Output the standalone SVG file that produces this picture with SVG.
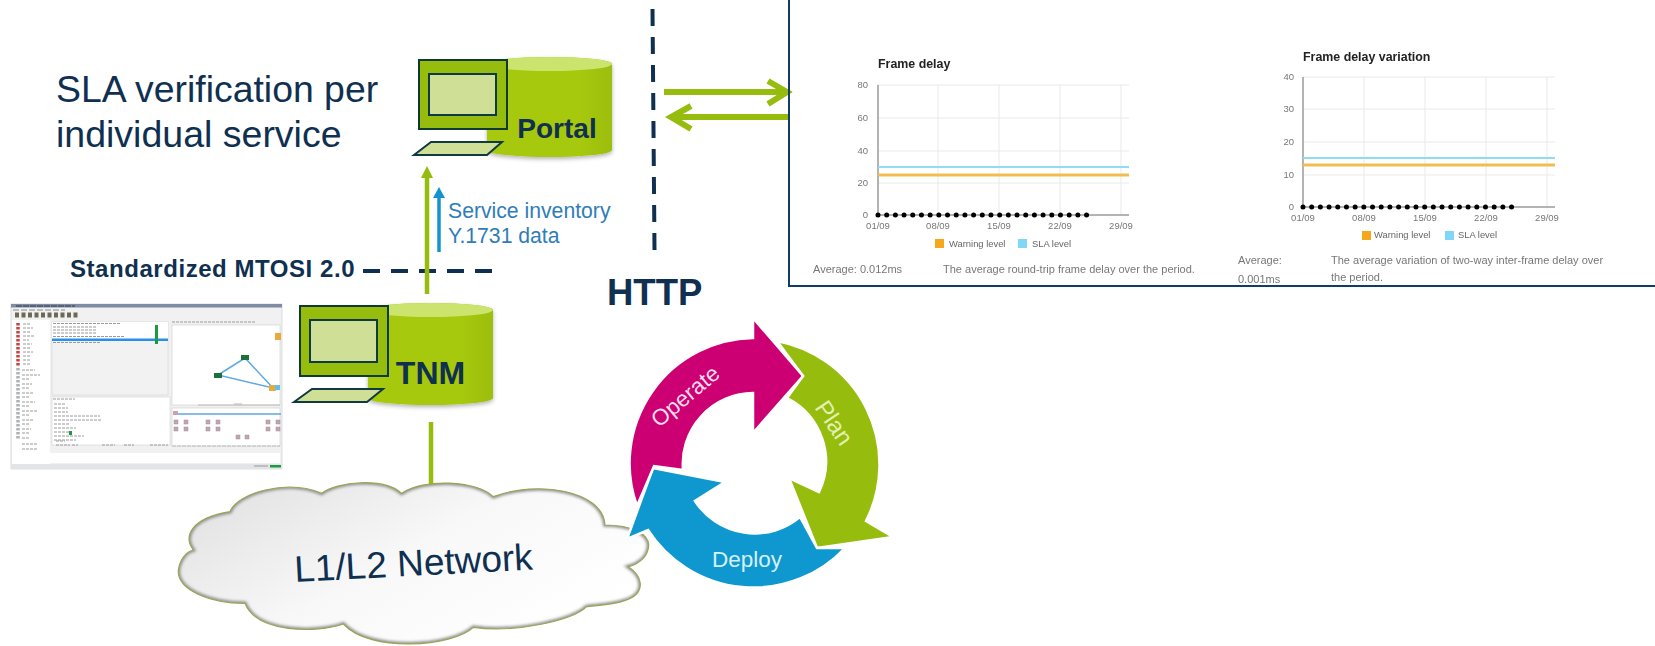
<svg xmlns="http://www.w3.org/2000/svg" width="1655" height="646" viewBox="0 0 1655 646">
<style>
text{font-family:"Liberation Sans",Arial,sans-serif}
.navy{fill:#0f3050}
.b{font-weight:bold}
.dash{stroke:#0f3050;stroke-width:4;fill:none;stroke-dasharray:17 11}
.lime{stroke:#96bc0d;fill:none;stroke-linecap:butt}
.mon{fill:#96bc0d;stroke:#0f3a34;stroke-width:2}
.scr{fill:#cfdf96;stroke:#0f3a44;stroke-width:2}
.cyl{fill:url(#cylG);filter:url(#soft)}
.cyltop{fill:#cbe46e}
.grid{stroke:#e9e9e9;stroke-width:1;fill:none}
.axis{stroke:#9a9a9a;stroke-width:1.5;fill:none}
.sla{stroke:#8fdcf5;stroke-width:2;fill:none}
.warn{stroke:#f2bd4e;stroke-width:3;fill:none}
.dots{stroke:#000;stroke-width:5;stroke-linecap:round;stroke-dasharray:0 8.69;fill:none}
.tick{font-size:9.5px;fill:#777}
.mid{text-anchor:middle}
.end{text-anchor:end}
.leg{font-size:9.4px;fill:#666}
.title{font-size:12.4px;font-weight:bold;fill:#222}
.note{font-size:11px;fill:#777}
.arc{stroke:#fff;stroke-width:2.5;stroke-linejoin:miter}
.sm{fill:none;stroke:#9a9a9a;stroke-width:1;stroke-dasharray:3 1}
.pk{fill:#c9a0b4;stroke:#999;stroke-width:.5}
</style>
<defs>
<linearGradient id="cylG" x1="0" x2="1" y1="0" y2="0"><stop offset="0" stop-color="#a6c811"/><stop offset=".75" stop-color="#a6c811"/><stop offset="1" stop-color="#9cbe10"/></linearGradient>
<linearGradient id="cloudG" x1="0" y1="0" x2="1" y2=".6"><stop offset="0" stop-color="#dedede"/><stop offset=".55" stop-color="#f8f8f8"/><stop offset="1" stop-color="#fff"/></linearGradient>
<filter id="soft" x="-10%" y="-10%" width="120%" height="125%"><feDropShadow dx="0" dy="2" stdDeviation="2" flood-color="#000" flood-opacity=".3"/></filter>
<filter id="fuzz" x="-5%" y="-5%" width="110%" height="110%"><feGaussianBlur stdDeviation=".6"/></filter>
<filter id="chartfuzz" x="-2%" y="-2%" width="104%" height="104%"><feGaussianBlur stdDeviation=".3"/></filter>
<filter id="in" x="-5%" y="-5%" width="110%" height="110%"><feGaussianBlur stdDeviation="4"/></filter>
<path id="cloudP" d="M180,125 C200,70 350,25 455,70 C500,35 640,20 695,70 C760,25 920,30 970,80 C1100,30 1300,60 1305,165 C1380,165 1445,190 1435,235 C1430,265 1400,285 1375,290 C1420,320 1420,360 1390,380 C1360,400 1300,405 1250,410 C1210,450 1040,490 910,472 C850,530 600,550 520,462 C440,490 260,490 225,400 C120,400 20,360 25,300 C30,265 50,245 70,240 C40,200 60,145 180,125 Z"/>
<clipPath id="cloudC"><use href="#cloudP"/></clipPath>
</defs>

<g id="sla-title">
<text x="56" y="102" font-size="37.400" class="navy">SLA verification per</text>
<text x="56" y="147" font-size="37.500" class="navy">individual service</text>
</g>

<g id="connectors">
<path class="dash" d="M652.500,9 L654.500,250"/>
<path class="dash" d="M363,271 H492"/>
<text x="70" y="277" font-size="24" letter-spacing=".55" class="navy b">Standardized MTOSI 2.0</text>
<text x="607" y="305" font-size="36.500" class="navy b">HTTP</text>
<path class="lime" stroke-width="4.500" d="M427,176 V294"/>
<polygon points="427,166 433,178 421,178" fill="#96bc0d"/>
<path d="M439,196 V252" stroke="#1593cf" stroke-width="3.500" fill="none"/>
<polygon points="439,187 445,198 433,198" fill="#1593cf"/>
<path class="lime" stroke-width="4.500" d="M431,422 V484"/>
<path class="lime" stroke-width="6" d="M664,92 H786"/>
<path class="lime" stroke-width="6" stroke-linecap="round" stroke-linejoin="miter" d="M768,81 L787,92 L768,104"/>
<path class="lime" stroke-width="6" d="M674,117 H788"/>
<path class="lime" stroke-width="6" stroke-linecap="round" d="M691,106 L671,117 L691,129"/>
<text x="448" y="218" font-size="21.200" fill="#2f7db8">Service inventory</text>
<text x="448" y="243" font-size="21.200" fill="#2f7db8">Y.1731 data</text>
</g>

<g id="portal">
<path class="cyl" d="M487,64 A62.500,7 0 0 1 612,64 V150 A62.500,7 0 0 1 487,150 Z"/>
<ellipse class="cyltop" cx="549.500" cy="64" rx="62.500" ry="7"/>
<rect class="mon" x="419" y="60" width="88" height="69"/>
<rect class="scr" x="429" y="74" width="67" height="41"/>
<polygon class="scr" points="414,155 431,142 502,142 487,155"/>
<text x="557" y="138" font-size="28" class="navy b mid">Portal</text>
</g>

<g id="tnm">
<path class="cyl" d="M368,310 A62.500,7 0 0 1 493,310 V398 A62.500,7 0 0 1 368,398 Z"/>
<ellipse class="cyltop" cx="430.500" cy="310" rx="62.500" ry="7"/>
<rect class="mon" x="300" y="306" width="88" height="70"/>
<rect class="scr" x="310" y="320" width="67" height="42"/>
<polygon class="scr" points="294,402 312,389 383,389 367,402"/>
<text x="430.500" y="384" font-size="32" class="navy b mid">TNM</text>
</g>

<g id="tnm-screenshot" filter="url(#fuzz)">
<rect x="11" y="304" width="271" height="165" fill="#f1f1f1" stroke="#c4c8cc" stroke-width=".6"/>
<rect x="11" y="304" width="271" height="3.500" fill="#7f8ca3"/>
<path d="M16,306 H75" stroke="#33384a" stroke-width="1" stroke-dasharray="6 1"/>
<path d="M13,310 H65" stroke="#888" stroke-width="1" stroke-dasharray="6 2"/>
<path d="M15,315 H80" stroke="#6a6a55" stroke-width="5" stroke-dasharray="4 2.500"/>
<rect x="12" y="320" width="38" height="148" fill="#fff"/>
<path d="M18,323 V366" stroke="#c8443c" stroke-width="3.500" stroke-dasharray="2.500 1.500"/>
<path d="M23,324 H31 M23,328 H33 M23,332 H30 M23,336 H34 M23,340 H29 M23,344 H32 M23,348 H30 M23,352 H33 M23,356 H30 M23,360 H31 M23,364 H30" class="sm"/>
<path d="M18,368 V440" stroke="#aeb2b4" stroke-width="3.500" stroke-dasharray="2.500 1.500"/>
<path d="M22,370 H35 M22,375 H40 M22,379 H30 M22,384 H32 M22,388 H30 M22,393 H33 M22,397 H30 M22,402 H35 M22,406 H30 M22,411 H38 M22,415 H30 M22,420 H33 M22,424 H30 M22,429 H31 M22,433 H30 M22,438 H30 M22,444 H38 M22,449 H38 M22,454 H36 M22,459 H42" class="sm"/>
<rect x="52" y="322" width="116" height="73" fill="#f2f2f2" stroke="#ccc" stroke-width=".5"/>
<rect x="52" y="322" width="116" height="19" fill="#fff"/>
<path d="M53,323.500 H120 M53,327 H97 M53,330 H97 M53,333 H97 M53,336.500 H125" class="sm"/>
<rect x="52" y="338.500" width="116" height="2.500" fill="#2a8fe6"/>
<path d="M53,342.500 H100" class="sm"/>
<rect x="155" y="325" width="3" height="19" fill="#1f9a40"/>
<rect x="52" y="397" width="118" height="48" fill="#fff" stroke="#ccc" stroke-width=".5"/>
<path d="M53,399 H75 M54,404 H65 M54,408 H68 M54,412 H68 M54,416 H100 M54,420 H102 M54,424 H70 M54,428 H76 M54,432 H70 M54,436 H84 M54,440 H76" class="sm"/>
<rect x="69" y="431" width="3" height="4" fill="#1f9a40"/>
<path d="M56,441 H65 M56,445 H70 M72,445 H78 M102,445 H115 M124,445 H134 M150,445 H168" class="sm"/>
<path d="M172,322 H255" class="sm"/>
<rect x="172" y="325" width="108" height="80" fill="#fff" stroke="#c4c4c4" stroke-width=".5"/>
<path d="M218,375 L245,358 L273,388 Z" fill="none" stroke="#5ea8e4" stroke-width="1.500"/>
<rect x="241" y="355" width="8" height="5" fill="#1b6f3a"/>
<rect x="214" y="373" width="8" height="5" fill="#1b6f3a"/>
<rect x="269" y="385" width="7" height="6" fill="#e9a93c"/>
<rect x="275" y="385" width="5" height="5" fill="#5ec0ea"/>
<rect x="275" y="333" width="6" height="7" fill="#e9a93c"/>
<path d="M234,404 H242 M198,405 H280" stroke="#bbb" stroke-width="1"/>
<rect x="172" y="408" width="108" height="38" fill="#fff" stroke="#c4c4c4" stroke-width=".5"/>
<path d="M173,414 H281" stroke="#5ea8e4" stroke-width="1.500"/>
<rect x="173" y="411" width="5" height="4" fill="#c9a0b4"/>
<g class="pk">
<rect x="174" y="420" width="4" height="4"/><rect x="184" y="420" width="4" height="4"/><rect x="206" y="420" width="4" height="4"/><rect x="216" y="420" width="4" height="4"/><rect x="266" y="420" width="4" height="4"/><rect x="276" y="420" width="4" height="4"/>
<rect x="174" y="427" width="4" height="4"/><rect x="184" y="427" width="4" height="4"/><rect x="206" y="427" width="4" height="4"/><rect x="216" y="427" width="4" height="4"/><rect x="266" y="427" width="4" height="4"/><rect x="276" y="427" width="4" height="4"/>
<rect x="236" y="435" width="4" height="4"/><rect x="245" y="435" width="4" height="4"/>
</g>
<path d="M172,446 H280" stroke="#bbb" stroke-width="1" stroke-dasharray="4 1"/>
<rect x="12" y="453" width="268" height="10" fill="#fff"/>
<rect x="11" y="464" width="271" height="5" fill="#e2e4e6"/>
<rect x="270" y="465" width="11" height="2.500" fill="#1f9a40"/>
<path d="M254,466 H268" stroke="#999" stroke-width="1"/>
</g>

<g id="network-cloud">
<g transform="translate(170,470) scale(.33333)">
<use href="#cloudP" fill="url(#cloudG)"/>
<g clip-path="url(#cloudC)"><use href="#cloudP" fill="none" stroke="#8a8a8a" stroke-width="11" filter="url(#in)"/></g>
<use href="#cloudP" fill="none" stroke="#98a552" stroke-width="3.500"/>
</g>
<text x="295" y="582" font-size="37" class="navy" transform="rotate(-3 295 582)">L1/L2 Network</text>
</g>

<g id="plan">
<path class="arc" fill="#96bc0d" d="M777,341 A125.500,125.500 0 0 1 866,521 L893,537 L817,548 L789,478 L819,492 A71,71 0 0 0 787,398 L803,376 Z"/>
<text x="834" y="431" font-size="24" class="mid" fill="#e2f0b0" transform="rotate(56 834 423)">Plan</text>
</g>
<g id="deploy">
<path class="arc" fill="#0f98d0" d="M627,539 L653,468 L725,482 L695,501 A71,71 0 0 0 800,517 L817,548 L845,548 A125.500,125.500 0 0 1 648,530 Z"/>
<text x="747" y="567" font-size="22.500" class="mid" fill="#d4f0fa">Deploy</text>
</g>
<g id="operate">
<path class="arc" fill="#cc0073" d="M637,506 A125.500,125.500 0 0 1 753,338 V318 L803,376 L753,433 V393 A71,71 0 0 0 683,470 L654,466 Z"/>
<text x="685" y="404" font-size="22.500" class="mid" fill="#fbdcec" transform="rotate(-40 685 396)">Operate</text>
</g>

<g id="report-panel">
<path d="M789,-3 V286 H1655" fill="none" stroke="#0f3d66" stroke-width="2"/>
</g>

<g id="chart-frame-delay" filter="url(#chartfuzz)">
<path class="grid" d="M878,85 H1129 M878,118 H1129 M878,151 H1129 M878,183 H1129 M938,85 V215 M999,85 V215 M1060,85 V215 M1121,85 V215"/>
<path class="axis" d="M878,85 V215 H1129"/>
<path class="sla" d="M878,167 H1129"/>
<path class="warn" d="M878,175 H1129"/>
<path class="dots" d="M878,215 H1087"/>
<text x="868" y="88" class="tick end">80</text><text x="868" y="121" class="tick end">60</text><text x="868" y="154" class="tick end">40</text><text x="868" y="186" class="tick end">20</text><text x="868" y="218" class="tick end">0</text>
<text x="878" y="229" class="tick mid">01/09</text><text x="938" y="229" class="tick mid">08/09</text><text x="999" y="229" class="tick mid">15/09</text><text x="1060" y="229" class="tick mid">22/09</text><text x="1121" y="229" class="tick mid">29/09</text>
<text x="878" y="68" class="title">Frame delay</text>
<rect x="935" y="239" width="9" height="9" fill="#f6a81c"/><text x="949" y="247" class="leg">Warning level</text>
<rect x="1018" y="239" width="9" height="9" fill="#7fd6f7"/><text x="1032" y="247" class="leg">SLA level</text>
<text x="813" y="273" class="note">Average: 0.012ms</text>
<text x="943" y="273" class="note">The average round-trip frame delay over the period.</text>
</g>

<g id="chart-frame-delay-variation" filter="url(#chartfuzz)">
<path class="grid" d="M1303,77 H1555 M1303,109 H1555 M1303,142 H1555 M1303,175 H1555 M1364,77 V207 M1425,77 V207 M1486,77 V207 M1547,77 V207"/>
<path class="axis" d="M1303,77 V207 H1555"/>
<path class="sla" d="M1303,158 H1555"/>
<path class="warn" d="M1303,165 H1555"/>
<path class="dots" d="M1303,207 H1512"/>
<text x="1294" y="80" class="tick end">40</text><text x="1294" y="112" class="tick end">30</text><text x="1294" y="145" class="tick end">20</text><text x="1294" y="178" class="tick end">10</text><text x="1294" y="210" class="tick end">0</text>
<text x="1303" y="221" class="tick mid">01/09</text><text x="1364" y="221" class="tick mid">08/09</text><text x="1425" y="221" class="tick mid">15/09</text><text x="1486" y="221" class="tick mid">22/09</text><text x="1547" y="221" class="tick mid">29/09</text>
<text x="1303" y="61" class="title">Frame delay variation</text>
<rect x="1362" y="231" width="9" height="9" fill="#f6a81c"/><text x="1374" y="238" class="leg">Warning level</text>
<rect x="1445" y="231" width="9" height="9" fill="#7fd6f7"/><text x="1458" y="238" class="leg">SLA level</text>
<text x="1238" y="264" class="note">Average:</text>
<text x="1238" y="283" class="note">0.001ms</text>
<text x="1331" y="264" class="note">The average variation of two-way inter-frame delay over</text>
<text x="1331" y="281" class="note">the period.</text>
</g>
</svg>
